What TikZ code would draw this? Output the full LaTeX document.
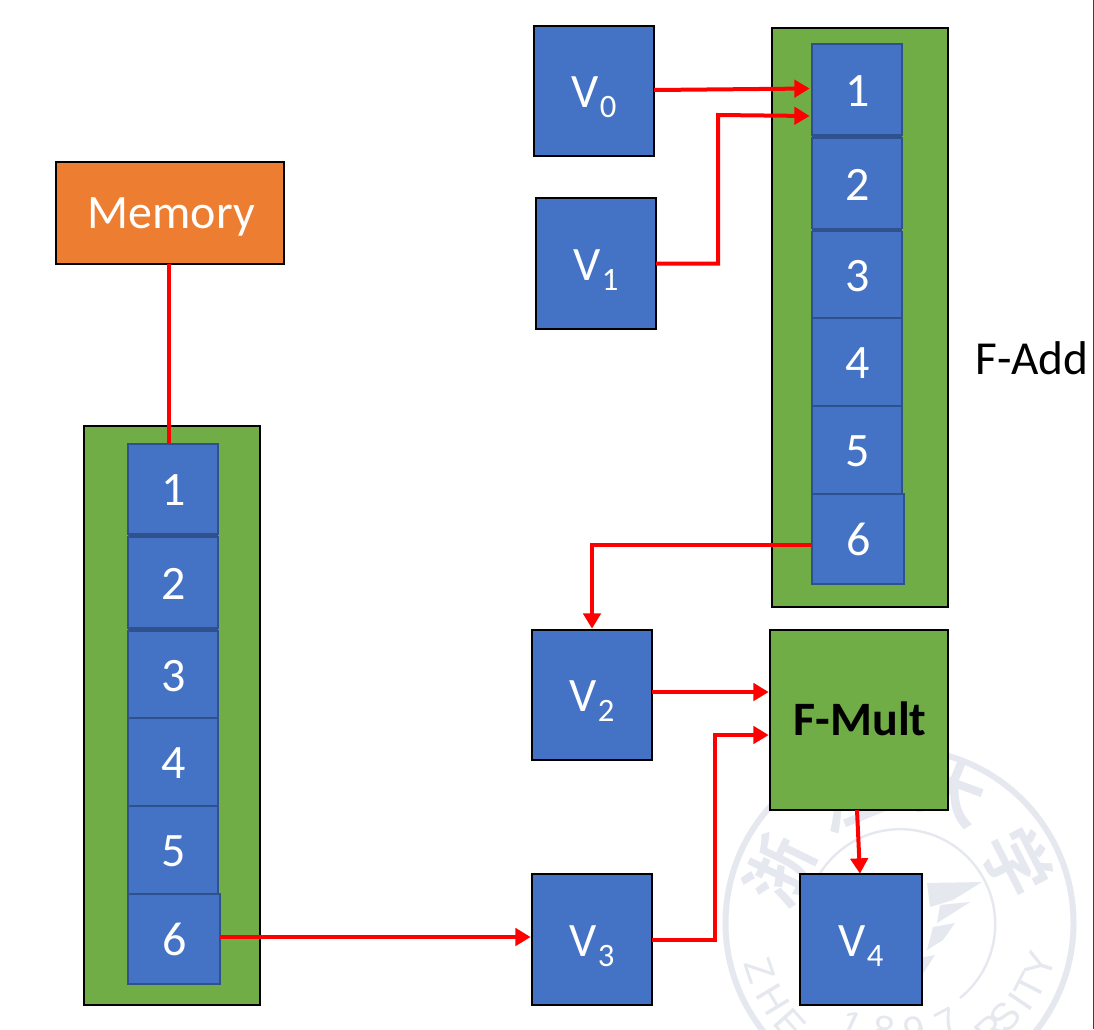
\documentclass[tikz,border=0pt]{standalone}
\usepackage{fontspec}
\setmainfont{Carlito}
\newfontfamily\sealcjk{Noto Sans CJK SC}[BoldFont=* Bold]
\newfontfamily\sealsans{Liberation Sans}
\usetikzlibrary{arrows.meta}
\definecolor{regblue}{HTML}{4472C4}
\definecolor{regedge}{HTML}{2F528F}
\definecolor{unitgreen}{HTML}{70AD47}
\definecolor{memorange}{HTML}{ED7D31}
\definecolor{sealgrey}{HTML}{E6E8F0}
\definecolor{wirered}{HTML}{FF0000}
% Box given by its pixel corners: style, name, left, top, right, bottom, text
\newcommand{\pxbox}[7][]{%
  \pgfmathsetmacro{\pxcx}{(#3+#5)/2}%
  \pgfmathsetmacro{\pxcy}{(#4+#6)/2}%
  \pgfmathsetmacro{\pxw}{(#5-#3)*0.75}%
  \pgfmathsetmacro{\pxh}{(#6-#4)*0.75}%
  \node[#1,minimum width=\pxw pt,minimum height=\pxh pt] (#2) at (\pxcx,\pxcy) {#7};%
}
% Register name with a lowered index
\newcommand{\vreg}[1]{\raisebox{-1.1pt}{V\kern0.75pt\raisebox{-7.5pt}{\fontsize{24.5}{28}\selectfont #1}}}
% Stage number inside a pipeline cell
\newcommand{\stageno}[1]{\kern1.5pt\raisebox{-1.2pt}{#1}}
\tikzset{
  x=0.75pt, y=-0.75pt,
  basebox/.style={inner sep=0pt,outer sep=0pt,text=white,text height=23pt,text depth=0pt,font=\fontsize{36}{42}\selectfont},
  unitbox/.style={basebox,draw=black,line width=2.1pt,fill=unitgreen},
  vecbox/.style={basebox,draw=black,line width=2.1pt,fill=regblue},
  membox/.style={basebox,draw=black,line width=1.8pt,fill=memorange},
  cellbox/.style={basebox,draw=regedge,line width=1.4pt,fill=regblue},
  seam/.style={fill=regedge},
  wire/.style={draw=wirered,line width=3pt},
  arrowwire/.style={wire,-{Triangle[length=11.5pt,width=13pt]},shorten >=1pt},
  sealink/.style={text=sealgrey,inner sep=0pt},
  sealhan/.style={sealink,font=\sealcjk\bfseries\fontsize{50}{50}\selectfont},
  seallatin/.style={sealink,font=\sealsans\fontsize{29}{32}\selectfont},
}
\begin{document}
\begin{tikzpicture}
\useasboundingbox (0,0) rectangle (1094,1029);
\fill[white] (0,0) rectangle (1094,1029);

% University seal behind the diagram
\begin{scope}
\clip (0,0) rectangle (1092,1029);
\draw[sealgrey,line width=4.5pt] (899.5,923) circle[radius=174*0.75pt];
\draw[sealgrey,line width=1.8pt] (960,998) arc[start angle=-51,end angle=205,radius=95*0.75pt];
\node[sealhan,rotate=64] (hanzhe) at (779,870) {浙};
\node[sealhan,rotate=22] (hanjiang) at (848,798) {江};
\node[sealhan,rotate=-20] (handa) at (952,792) {大};
\node[sealhan,rotate=-63] (hanxue) at (1018,862) {学};
\node[seallatin,rotate=-71] (lz) at (760,970) {Z};
\node[seallatin,rotate=-59] (lh) at (773,1000) {H};
\node[seallatin,rotate=-48] (le) at (790,1024) {E};
\node[seallatin,rotate=-25] (done) at (851,1025) {1};
\node[seallatin,rotate=-8] (deight) at (884,1030) {8};
\node[seallatin,rotate=11] (dnine) at (914,1030) {9};
\node[seallatin,rotate=28] (dseven) at (948,1023) {7};
\node[seallatin,rotate=42] (lr) at (991,1030) {R};
\node[seallatin,rotate=48] (ls) at (1005,1017) {S};
\node[seallatin,rotate=56] (li) at (1020,1002) {I};
\node[seallatin,rotate=63] (lt) at (1030,987) {T};
\node[seallatin,rotate=72] (ly) at (1040,965) {Y};
\fill[sealgrey] (927,883) -- (982,882) -- (953,900) -- (930,907) -- cycle;
\fill[sealgrey] (940,905) -- (970,902) -- (953,913) -- (937,923) -- cycle;
\fill[sealgrey] (933,927) -- (955,923) -- (943,940) -- (927,950) -- cycle;
\fill[sealgrey] (918,958) -- (935,955) -- (922,975) -- cycle;
\end{scope}
\draw[black!75,line width=0.7pt] (1093,0) -- (1093,1029);

% Memory and load unit
\pxbox[membox]{memory}{56}{162}{284}{264}{\kern2pt Memory}
\pxbox[unitbox]{loadunit}{84}{426}{260}{1005}{}
\pxbox[cellbox]{m1}{128}{444}{218}{534}{\stageno{1}}
\pxbox[cellbox]{m2}{128}{537}{218}{628}{\stageno{2}}
\pxbox[cellbox]{m3}{128}{631}{218}{718}{\stageno{3}}
\pxbox[cellbox]{m4}{128}{718}{218}{806}{\stageno{4}}
\pxbox[cellbox]{m5}{128}{806}{218}{894}{\stageno{5}}
\pxbox[cellbox]{m6}{128}{894}{220}{984}{\stageno{6}}
\fill[seam] (m1.south west) rectangle (m2.north east);
\fill[seam] (m2.south west) rectangle (m3.north east);

% Vector registers
\pxbox[vecbox]{V0}{534}{26}{654}{156}{\vreg{0}}
\pxbox[vecbox]{V1}{536}{198}{656}{329}{\vreg{1}}
\pxbox[vecbox]{V2}{532}{630}{652}{760}{\vreg{2}}
\pxbox[vecbox]{V3}{532}{874}{652}{1005}{\vreg{3}}
\pxbox[vecbox]{V4}{800}{874}{922}{1005}{\vreg{4}}

% Adder pipeline
\pxbox[unitbox]{addunit}{772}{28}{948}{607}{}
\pxbox[cellbox]{a1}{812}{44}{902}{135}{\stageno{1}}
\pxbox[cellbox]{a2}{812}{138}{902}{228.5}{\stageno{2}}
\pxbox[cellbox]{a3}{812}{231.5}{902}{318}{\stageno{3}}
\pxbox[cellbox]{a4}{812}{318}{902}{406}{\stageno{4}}
\pxbox[cellbox]{a5}{812}{406}{902}{494}{\stageno{5}}
\pxbox[cellbox]{a6}{812}{494}{904}{584}{\stageno{6}}
\fill[seam] (a1.south west) rectangle (a2.north east);
\fill[seam] (a2.south west) rectangle (a3.north east);
\node[inner sep=0pt,font=\fontsize{35.5}{42}\selectfont] (faddlabel) at (1032,358) {F-Add};

% Multiplier
\pxbox[unitbox]{fmult}{770}{630}{948}{810}{\kern1.5pt\textcolor{black}{\bfseries F-Mult}}

% Connector ends that sit off the node anchors
\coordinate (memdrop) at (169,264);
\coordinate (memin) at (169,444);
\coordinate (m6out) at (220,937);
\coordinate (v3in) at (532,937);
\coordinate (v0out) at (654,90);
\coordinate (a1upper) at (811,88.5);
\coordinate (a1lower) at (811,116);
\coordinate (v1bend) at (718,115);
\coordinate (a6out) at (812,545);
\coordinate (v2out) at (652,692);
\coordinate (multupper) at (770,692);
\coordinate (multlower) at (770,735);
\coordinate (v3bend) at (715,735);
\coordinate (multout) at (857,810);
\coordinate (v4in) at (860,875);

% Data paths
\draw[wire] (memdrop) -- (memin);
\draw[arrowwire] (m6out) -- (v3in);
\draw[arrowwire] (v0out) -- (a1upper);
\draw[arrowwire] (V1.east) -| (v1bend) -- (a1lower);
\draw[arrowwire] (a6out) -| (V2.north);
\draw[arrowwire] (v2out) -- (multupper);
\draw[arrowwire] (V3.east) -| (v3bend) -- (multlower);
\draw[arrowwire] (multout) -- (v4in);
\end{tikzpicture}
\end{document}
